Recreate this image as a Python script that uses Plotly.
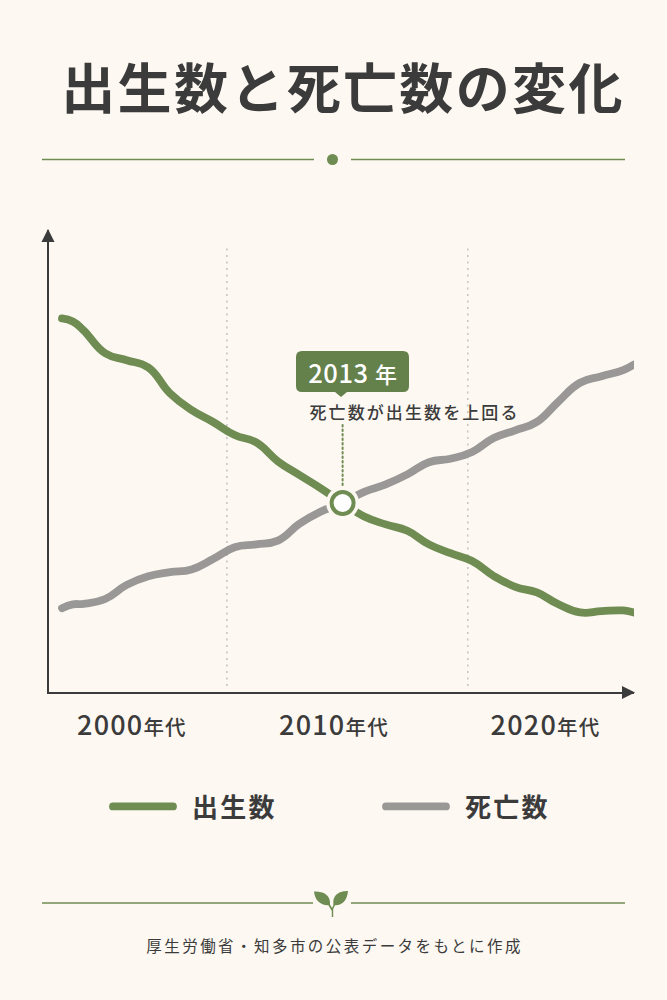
import plotly.graph_objects as go

W, H = 667, 1000
PLOT_L, PLOT_R, PLOT_T, PLOT_B = 49, 634, 230, 692

BG = "#fdf8f2"
GREEN = "#6f8c52"
BOX_GREEN = "#64814b"
GREY = "#999897"
INK = "#3b3b3b"
CJK = "Noto Sans CJK JP"

years = [2000, 2000.5, 2001, 2002, 2003, 2004, 2005, 2006, 2007, 2008, 2009,
         2010, 2011, 2012, 2013, 2014, 2015, 2016, 2017, 2018, 2019,
         2020, 2021, 2022, 2023, 2024, 2025, 2026, 2026.5]
births = [93.38, 92.62, 90.42, 84.68, 82.95, 81.12, 74.68, 70.5, 67.5, 64.25, 62.38,
          57.68, 54.25, 50.88, 47.25, 43.88, 41.9, 40.3, 36.9, 34.7, 32.75,
          29, 26.3, 24.88, 21.92, 19.88, 20.2, 20.38, 19.88]
deaths = [20.95, 21.9, 22.05, 23.25, 26.78, 28.95, 29.95, 30.62, 33.25, 36.2, 36.92,
          37.85, 42.05, 45.12, 47.25, 50.02, 51.9, 54.4, 57.45, 58.32, 60,
          63.5, 65.42, 67.52, 72.62, 77.32, 78.95, 80.48, 81.88]

crossing_year = 2013
crossing_value = 47.25
decade_dividers = [2007.64, 2018.8]
divider_span = [1.5, 111.25]
tick_years = [2003.24, 2012.6, 2022.4]
tick_decades = ["2000", "2010", "2020"]
tick_suffix = "年代"

X_RANGE = [1999.398, 2026.5]
Y_RANGE = [0, 115.5]


def px(x):
    return (x - PLOT_L) / (PLOT_R - PLOT_L)


def py(y):
    return (PLOT_B - y) / (PLOT_B - PLOT_T)


def path(cmds):
    """Builds an SVG path in paper space from page-pixel commands."""
    out = []
    for c in cmds:
        if isinstance(c, str):
            out.append(c)
        else:
            out.append(f"{px(c[0]):.5f},{py(c[1]):.5f}")
    return " ".join(out)


def paper_shape(cmds, fill, line=None, width=0):
    return dict(type="path", xref="paper", yref="paper", layer="above",
                path=path(cmds), fillcolor=fill,
                line=dict(color=line or fill, width=width))


def hline(x0, x1, y, color=GREEN, width=1.6):
    return dict(type="line", xref="paper", yref="paper",
                x0=px(x0), x1=px(x1), y0=py(y), y1=py(y),
                line=dict(color=color, width=width))


def label(text, x, y, size, color=INK, weight=400):
    return dict(text=text, xref="paper", yref="paper", x=px(x), y=py(y),
                xanchor="center", yanchor="middle", showarrow=False,
                font=dict(family=CJK, size=size, color=color, weight=weight))


def legend_box(x):
    return dict(orientation="h", x=px(x), y=py(806.5), xanchor="left", yanchor="middle",
                font=dict(family=CJK, size=26, color=INK, weight=700),
                itemwidth=60, entrywidth=115, entrywidthmode="pixels",
                bgcolor="rgba(0,0,0,0)", itemclick=False, itemdoubleclick=False)


fig = go.Figure()

fig.add_trace(go.Scatter(
    x=years, y=births, name="出生数", mode="lines", legend="legend", cliponaxis=False,
    line=dict(color=GREEN, width=7.8, shape="spline", smoothing=1.3)))
fig.add_trace(go.Scatter(
    x=years, y=deaths, name="死亡数", mode="lines", legend="legend2", cliponaxis=False,
    line=dict(color=GREY, width=7.8, shape="spline", smoothing=1.3)))

# Leader from the callout down to the crossing point
fig.add_trace(go.Scatter(
    x=[crossing_year, crossing_year], y=[66.75, crossing_value], mode="lines",
    line=dict(color=GREEN, width=2, dash="1.5px 3px"), showlegend=False))

# Crossing marker with a background-coloured halo
fig.add_trace(go.Scatter(
    x=[crossing_year], y=[crossing_value], mode="markers", showlegend=False,
    marker=dict(size=33, color=BG, line=dict(width=0))))
fig.add_trace(go.Scatter(
    x=[crossing_year], y=[crossing_value], mode="markers", showlegend=False,
    marker=dict(size=22, color="#ffffff", line=dict(color=GREEN, width=4))))

shapes = []
for year in decade_dividers:
    shapes.append(dict(type="line", xref="x", yref="y", layer="below",
                       x0=year, x1=year, y0=divider_span[0], y1=divider_span[1],
                       line=dict(color="#c6c4bd", width=1.5, dash="2px 4.5px")))

# Title rule with centre dot
shapes += [hline(42, 314, 159.5), hline(351, 625, 159.5)]
shapes.append(dict(type="circle", xref="paper", yref="paper",
                   x0=px(327), x1=px(338), y0=py(165), y1=py(154),
                   fillcolor=GREEN, line=dict(width=0)))

# Axis arrowheads
shapes.append(paper_shape(["M", (48, 229), "L", (41.5, 242), "L", (54.5, 242), "Z"], INK))
shapes.append(paper_shape(["M", (635, 692.5), "L", (622, 686), "L", (622, 699), "Z"], INK))

# Callout box with pointer
r = 6
shapes.append(paper_shape([
    "M", (296 + r, 351), "L", (409 - r, 351), "Q", (409, 351), (409, 351 + r),
    "L", (409, 392 - r), "Q", (409, 392), (409 - r, 392),
    "L", (347, 392), "L", (341, 397), "L", (335, 392),
    "L", (296 + r, 392), "Q", (296, 392), (296, 392 - r),
    "L", (296, 351 + r), "Q", (296, 351), (296 + r, 351), "Z"], BOX_GREEN))

# Footer rule with sprout
shapes += [hline(42, 313, 903), hline(351, 625, 903)]
shapes.append(paper_shape([
    "M", (314, 891.5), "C", (322, 891), (331, 894), (330, 905),
    "C", (321, 906), (315, 901), (314, 891.5), "Z"], GREEN))
shapes.append(paper_shape([
    "M", (348, 891), "C", (340, 891), (332, 894), (333.5, 905),
    "C", (342, 906), (347, 901), (348, 891), "Z"], GREEN))
shapes.append(paper_shape([
    "M", (327, 903), "L", (331.8, 911), "L", (331.8, 917), "L", (333.2, 917),
    "L", (333.2, 909), "L", (336, 903), "L", (334.5, 903), "L", (332, 908),
    "L", (328.5, 902), "Z"], GREEN))

annotations = [
    label("出生数と死亡数の変化", 342.5, 85.5, 54, weight=700),
    label('2013 <span style="font-size:22px">年</span>', 353, 371.5, 25.5,
          color="#ffffff", weight=500),
    label("死亡数が出生数を上回る", 414.5, 411, 17, weight=500),
    label("厚生労働省・知多市の公表データをもとに作成", 334, 945, 15.5),
]

fig.update_layout(
    width=W, height=H, autosize=False,
    margin=dict(l=PLOT_L, r=W - PLOT_R, t=PLOT_T, b=H - PLOT_B, pad=0),
    paper_bgcolor=BG, plot_bgcolor=BG,
    font=dict(family=CJK, color=INK),
    showlegend=True,
    legend=legend_box(108),
    legend2=legend_box(381),
    xaxis=dict(range=X_RANGE, showgrid=False, zeroline=False, showline=True,
               linecolor=INK, linewidth=2, tickmode="array",
               tickvals=tick_years,
               ticktext=[f'{d}<span style="font-size:20.5px">{tick_suffix}</span>'
                         for d in tick_decades],
               ticks="", ticklabelstandoff=9,
               tickfont=dict(family=CJK, size=27, color=INK, weight=500)),
    yaxis=dict(range=Y_RANGE, showgrid=False, zeroline=False, showline=True,
               linecolor=INK, linewidth=2, showticklabels=False, ticks=""),
    shapes=shapes,
    annotations=annotations,
)

# Rounded line ends, tracked lettering and a wider key-to-label gap
post_script = """
var root = document.getElementById('{plot_id}');
root.querySelectorAll('.js-line, .legendlines path').forEach(function (p) {
  p.style.strokeLinecap = 'round';
});
var tracking = {
  '出生数と死亡数の変化': '2.35px',
  '2013 年': '0.6px',
  '死亡数が出生数を上回る': '2.1px',
  '厚生労働省・知多市の公表データをもとに作成': '2.45px',
  '出生数': '2.3px',
  '死亡数': '2.3px',
  '2000年代': '1.2px',
  '2010年代': '1.2px',
  '2020年代': '1.2px'
};
root.querySelectorAll('svg text').forEach(function (t) {
  var name = t.textContent;
  if (tracking[name]) { t.style.letterSpacing = tracking[name]; }
  if (name === '出生数' || name === '死亡数') { t.style.transform = 'translateX(14px)'; }
});
"""

fig.write_html("out.html", post_script=post_script, config=dict(displayModeBar=False))
